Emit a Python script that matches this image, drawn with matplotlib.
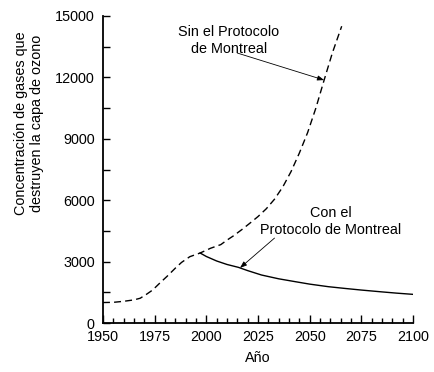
import numpy as np
import matplotlib
matplotlib.use('Agg')
import matplotlib.pyplot as plt
from matplotlib.ticker import MultipleLocator

plt.rcParams['font.family'] = ['Liberation Sans', 'DejaVu Sans']

# Sin el Protocolo de Montreal (línea discontinua)
anios_sin = [1950, 1955, 1960, 1965, 1968, 1971, 1974, 1978, 1981, 1985, 1988,
             1992, 1997, 2002, 2007, 2010, 2013, 2017, 2021, 2025, 2029, 2033,
             2037, 2041, 2045, 2049, 2053, 2057, 2061, 2065.5]
conc_sin = [1000, 1010, 1060, 1130, 1210, 1400, 1610, 2000, 2280, 2680, 2960,
            3240, 3420, 3650, 3830, 4050, 4250, 4550, 4870, 5200, 5580, 6050,
            6650, 7400, 8300, 9300, 10500, 11870, 13200, 14500]

# Con el Protocolo de Montreal (línea continua)
anios_con = [1997, 2000, 2005, 2010, 2015.5, 2020, 2026.7, 2035, 2043, 2050,
             2059, 2067, 2075, 2085, 2092, 2100]
conc_con = [3420, 3250, 3030, 2860, 2720, 2560, 2345, 2160, 2020, 1900,
            1775, 1690, 1610, 1520, 1460, 1400]

fs = 10.4

fig = plt.figure(figsize=(4.34, 3.72), dpi=100)
ax = fig.add_axes([0.2373, 0.1317, 0.7143, 0.8253])

ax.plot(anios_sin, conc_sin, color='black', lw=1.0, linestyle=(0, (5, 3)))
ax.plot(anios_con, conc_con, color='black', lw=1.0)

ax.set_xlim(1950, 2100)
ax.set_ylim(0, 15000)
ax.xaxis.set_major_locator(MultipleLocator(25))
ax.xaxis.set_minor_locator(MultipleLocator(5))
ax.yaxis.set_major_locator(MultipleLocator(3000))
ax.yaxis.set_minor_locator(MultipleLocator(1500))
ax.tick_params(axis='x', which='major', direction='in', length=6, width=1, labelsize=fs, pad=5)
ax.tick_params(axis='x', which='minor', direction='in', length=3.6, width=1)
ax.tick_params(axis='y', which='both', direction='in', length=5, width=1, labelsize=fs, pad=6)

for s in ['top', 'right']:
    ax.spines[s].set_visible(False)
for s in ['left', 'bottom']:
    ax.spines[s].set_linewidth(1.3)

ax.set_xlabel('Año', fontsize=fs, labelpad=5)
ax.set_ylabel('Concentración de gases que\ndestruyen la capa de ozono', fontsize=fs, labelpad=8)
ax.yaxis.label.set_y(0.651)

ax.text(2011, 13800, 'Sin el Protocolo\nde Montreal', ha='center', va='center',
        ma='center', fontsize=fs, linespacing=1.2)
tip1 = 2057
ax.annotate('', xy=(tip1, np.interp(tip1, anios_sin, conc_sin)), xytext=(2015, 13190),
            arrowprops=dict(arrowstyle='-|>,head_length=0.4,head_width=0.15',
                            color='black', lw=0.6, shrinkA=0, shrinkB=0))

ax.text(2060, 4960, 'Con el\nProtocolo de Montreal', ha='center', va='center',
        ma='center', fontsize=fs, linespacing=1.2)
tip2 = 2016.3
ax.annotate('', xy=(tip2, np.interp(tip2, anios_con, conc_con)), xytext=(2033, 4150),
            arrowprops=dict(arrowstyle='-|>,head_length=0.4,head_width=0.15',
                            color='black', lw=0.6, shrinkA=0, shrinkB=0))

fig.savefig('out.png', dpi=100)
